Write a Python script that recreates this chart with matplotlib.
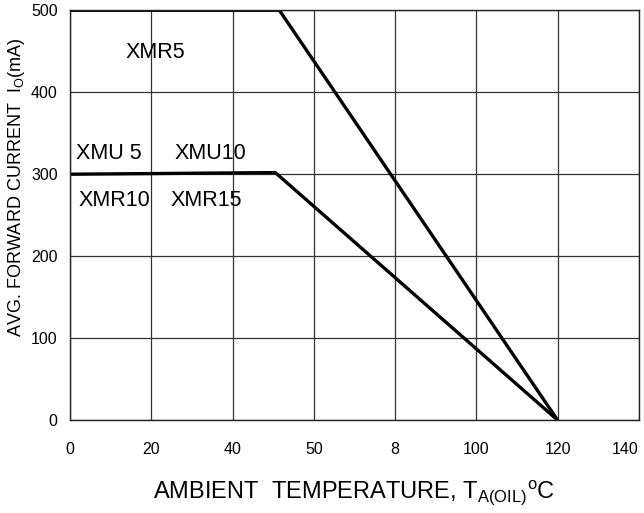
import numpy as np
import matplotlib.pyplot as plt

plt.rcParams['font.family'] = ['Liberation Sans', 'DejaVu Sans']
plt.rcParams['mathtext.fontset'] = 'custom'
plt.rcParams['mathtext.rm'] = 'Liberation Sans'

# данные кривых (температура, ток)
xmr5_t = [0, 51.5, 120]
xmr5_i = [500, 500, 0]
xmu_t = [0, 50.5, 120]
xmu_i = [300, 302, 0]

x_ticks = [0, 20, 40, 60, 80, 100, 120, 140]
x_tick_labels = ['0', '20', '40', '50', '8', '100', '120', '140']
y_ticks = [0, 100, 200, 300, 400, 500]

fig = plt.figure(figsize=(6.44, 5.13), dpi=100)
ax = fig.add_axes([0.109, 0.181, 0.883, 0.799])

ax.plot(xmr5_t, xmr5_i, color='black', lw=2.4, solid_capstyle='butt')
ax.plot(xmu_t, xmu_i, color='black', lw=2.4, solid_capstyle='butt')

ax.set_xlim(0, 140)
ax.set_ylim(0, 500)
ax.set_xticks(x_ticks)
ax.set_xticklabels(x_tick_labels)
ax.set_yticks(y_ticks)
ax.tick_params(length=0, labelsize=11.5)
ax.tick_params(axis='x', pad=16)
ax.tick_params(axis='y', pad=9)
# последняя подпись не должна вылезать за край
last = ax.get_xticklabels()[-1]
last.set_horizontalalignment('right')
ax.grid(True, color='#333333', lw=0.9)
for s in ax.spines.values():
    s.set_color('#222222')
    s.set_linewidth(1.0)

# подписи кривых
ax.text(21, 449, 'XMR5', fontsize=15.5, ha='center', va='center')
ax.text(9.5, 325, 'XMU 5', fontsize=15.5, ha='center', va='center')
ax.text(34.5, 325, 'XMU10', fontsize=15.5, ha='center', va='center')
ax.text(11, 268, 'XMR10', fontsize=15.5, ha='center', va='center')
ax.text(33.5, 268, 'XMR15', fontsize=15.5, ha='center', va='center')

fig.text(0.025, 0.634, r'AVG. FORWARD CURRENT  I$_\mathregular{O}$(mA)',
         rotation=90, fontsize=13, ha='center', va='center')
fig.text(0.55, 0.04, r'AMBIENT  TEMPERATURE, T$_\mathregular{A(OIL)}$$\mathregular{^o}$C',
         fontsize=17, ha='center', va='center')

fig.savefig('out.png', dpi=100)
